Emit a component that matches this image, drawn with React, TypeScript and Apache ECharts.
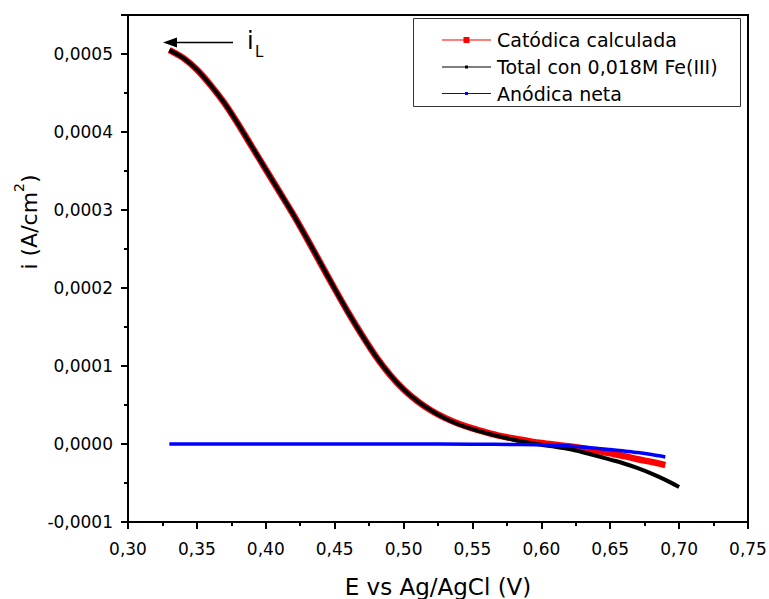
import React, { useEffect, useRef } from "react";
import * as echarts from "echarts";

const xTotal = [0.33, 0.34, 0.35, 0.36, 0.37, 0.38, 0.39, 0.40, 0.41, 0.42, 0.43, 0.44, 0.45, 0.46, 0.47, 0.48, 0.49, 0.50, 0.51, 0.52, 0.53, 0.54, 0.55, 0.56, 0.57, 0.58, 0.59, 0.60, 0.61, 0.62, 0.63, 0.64, 0.65, 0.66, 0.67, 0.68, 0.69, 0.70];
const yTotal = [5.05e-4, 4.95e-4, 4.80e-4, 4.60e-4, 4.37e-4, 4.10e-4, 3.81e-4, 3.52e-4, 3.23e-4, 2.94e-4, 2.63e-4, 2.31e-4, 1.99e-4, 1.68e-4, 1.39e-4, 1.12e-4, 0.89e-4, 0.70e-4, 0.55e-4, 0.43e-4, 0.33e-4, 0.25e-4, 0.19e-4, 0.14e-4, 0.095e-4, 0.055e-4, 0.02e-4, -0.01e-4, -0.035e-4, -0.065e-4, -0.105e-4, -0.15e-4, -0.20e-4, -0.25e-4, -0.31e-4, -0.38e-4, -0.46e-4, -0.55e-4];

const xCatodica = [0.33, 0.34, 0.35, 0.36, 0.37, 0.38, 0.39, 0.40, 0.41, 0.42, 0.43, 0.44, 0.45, 0.46, 0.47, 0.48, 0.49, 0.50, 0.51, 0.52, 0.53, 0.54, 0.55, 0.56, 0.57, 0.58, 0.59, 0.60, 0.61, 0.62, 0.63, 0.64, 0.65, 0.66, 0.67, 0.68, 0.69];
const yCatodica = [5.05e-4, 4.95e-4, 4.80e-4, 4.60e-4, 4.37e-4, 4.10e-4, 3.81e-4, 3.52e-4, 3.23e-4, 2.94e-4, 2.63e-4, 2.31e-4, 1.99e-4, 1.68e-4, 1.39e-4, 1.12e-4, 0.89e-4, 0.70e-4, 0.55e-4, 0.43e-4, 0.335e-4, 0.26e-4, 0.20e-4, 0.15e-4, 0.105e-4, 0.07e-4, 0.04e-4, 0.012e-4, -0.01e-4, -0.03e-4, -0.055e-4, -0.085e-4, -0.12e-4, -0.155e-4, -0.195e-4, -0.23e-4, -0.27e-4];

const xAnodica = [0.33, 0.40, 0.45, 0.50, 0.55, 0.58, 0.60, 0.62, 0.64, 0.65, 0.66, 0.67, 0.68, 0.69];
const yAnodica = [0, 0, 0, 0, -0.003e-4, -0.006e-4, -0.01e-4, -0.025e-4, -0.055e-4, -0.07e-4, -0.09e-4, -0.11e-4, -0.135e-4, -0.166e-4];

const seriesNames = ["Catódica calculada", "Total con 0,018M Fe(III)", "Anódica neta"];
const xTitle = "E vs Ag/AgCl (V)";

const FONT = "DejaVu Sans";

const pairs = (xs: number[], ys: number[]) => xs.map((x, i) => [x, ys[i]]);

export default function App() {
  const ref = useRef<HTMLDivElement>(null);
  useEffect(() => {
    if (!ref.current) return;
    const chart = echarts.init(ref.current, undefined, { renderer: "svg" });
    const legendRows = [
      { y: 40, color: "#ff7f7f", mcolor: "#ff0000", lw: 2, ms: 6, name: seriesNames[0] },
      { y: 67, color: "#000000", mcolor: "#000000", lw: 1.2, ms: 3, name: seriesNames[1] },
      { y: 93.5, color: "#0000ff", mcolor: "#0000ff", lw: 1.2, ms: 3, name: seriesNames[2] },
    ];
    const legendGraphics: any[] = [
      {
        type: "rect",
        shape: { x: 413.5, y: 18.5, width: 327, height: 88 },
        style: { fill: "#fff", stroke: "#333", lineWidth: 1 },
        z: 100,
      },
    ];
    legendRows.forEach((r) => {
      legendGraphics.push({
        type: "line",
        shape: { x1: 442, y1: r.y, x2: 491, y2: r.y },
        style: { stroke: r.color, lineWidth: r.lw },
        z: 101,
      });
      legendGraphics.push({
        type: "rect",
        shape: { x: 466.5 - r.ms / 2, y: r.y - r.ms / 2, width: r.ms, height: r.ms },
        style: { fill: r.mcolor },
        z: 102,
      });
      legendGraphics.push({
        type: "text",
        x: 497,
        y: r.y,
        style: { text: r.name, fontFamily: FONT, fontSize: 19, fill: "#000", verticalAlign: "middle", align: "left" },
        z: 102,
      });
    });

    chart.setOption({
      animation: false,
      backgroundColor: "#ffffff",
      grid: {
        left: 128,
        right: 21,
        top: 15,
        bottom: 77,
        show: true,
        borderColor: "#000",
        borderWidth: 2,
        backgroundColor: "transparent",
        containLabel: false,
        outerBoundsMode: "none",
      },
      xAxis: {
        type: "value",
        min: 0.3,
        max: 0.75,
        interval: 0.05,
        name: xTitle,
        nameLocation: "middle",
        nameGap: 53,
        nameTextStyle: { fontFamily: FONT, fontSize: 23, color: "#000" },
        axisLine: { show: true, onZero: false, lineStyle: { color: "#000", width: 2 } },
        axisTick: { show: true, inside: false, length: 7, lineStyle: { color: "#000", width: 2 } },
        minorTick: { show: true, splitNumber: 2, length: 4, lineStyle: { color: "#000", width: 2 } },
        splitLine: { show: false },
        axisLabel: {
          margin: 18,
          fontFamily: FONT,
          fontSize: 17,
          color: "#000",
          formatter: (v: number) => v.toFixed(2).replace(".", ","),
        },
      },
      yAxis: {
        type: "value",
        min: -0.0001,
        max: 0.00055,
        interval: 0.0001,
        axisLine: { show: true, onZero: false, lineStyle: { color: "#000", width: 2 } },
        axisTick: { show: true, inside: false, length: 7, lineStyle: { color: "#000", width: 2 } },
        minorTick: { show: true, splitNumber: 2, length: 4, lineStyle: { color: "#000", width: 2 } },
        splitLine: { show: false },
        axisLabel: {
          margin: 15,
          fontFamily: FONT,
          fontSize: 17,
          color: "#000",
          showMaxLabel: false,
          formatter: (v: number) => (v < 0 ? "-" : "") + Math.abs(v).toFixed(4).replace(".", ","),
        },
      },
      series: [
        {
          name: seriesNames[0],
          type: "line",
          data: pairs(xCatodica, yCatodica),
          showSymbol: false,
          smooth: 0.3,
          lineStyle: { color: "#ff0000", width: 6.5 },
          itemStyle: { color: "#ff0000" },
          z: 2,
        },
        {
          name: seriesNames[1],
          type: "line",
          data: pairs(xTotal, yTotal),
          showSymbol: false,
          smooth: 0.3,
          lineStyle: { color: "#000000", width: 4 },
          itemStyle: { color: "#000000" },
          z: 3,
        },
        {
          name: seriesNames[2],
          type: "line",
          data: pairs(xAnodica, yAnodica),
          showSymbol: false,
          smooth: 0.3,
          lineStyle: { color: "#0000ff", width: 3.5 },
          itemStyle: { color: "#0000ff" },
          z: 4,
        },
      ],
      graphic: [
        {
          type: "text",
          x: 26,
          y: 222,
          rotation: Math.PI / 2,
          style: {
            text: "{n|i (A/cm}{sup|2}{n|)}",
            align: "center",
            verticalAlign: "middle",
            rich: {
              n: { fontFamily: FONT, fontSize: 22, fill: "#000", lineHeight: 28, verticalAlign: "bottom" },
              sup: { fontFamily: FONT, fontSize: 14, fill: "#000", lineHeight: 16, verticalAlign: "top" },
            },
          },
        },
        {
          type: "line",
          shape: { x1: 233, y1: 42.5, x2: 172, y2: 42.5 },
          style: { stroke: "#000", lineWidth: 1.5 },
        },
        {
          type: "polygon",
          shape: { points: [[163, 42.5], [177, 37.5], [177, 47.5]] },
          style: { fill: "#000" },
        },
        {
          type: "text",
          x: 247,
          y: 41,
          style: { text: "i", fontFamily: FONT, fontSize: 24, fill: "#000", verticalAlign: "middle", align: "left" },
        },
        {
          type: "text",
          x: 255,
          y: 52,
          style: { text: "L", fontFamily: FONT, fontSize: 15, fill: "#000", verticalAlign: "middle", align: "left" },
        },
        ...legendGraphics,
      ],
    });
    return () => chart.dispose();
  }, []);
  return <div ref={ref} style={{ position: "absolute", left: 0, top: 0, width: 769, height: 599 }} />;
}
